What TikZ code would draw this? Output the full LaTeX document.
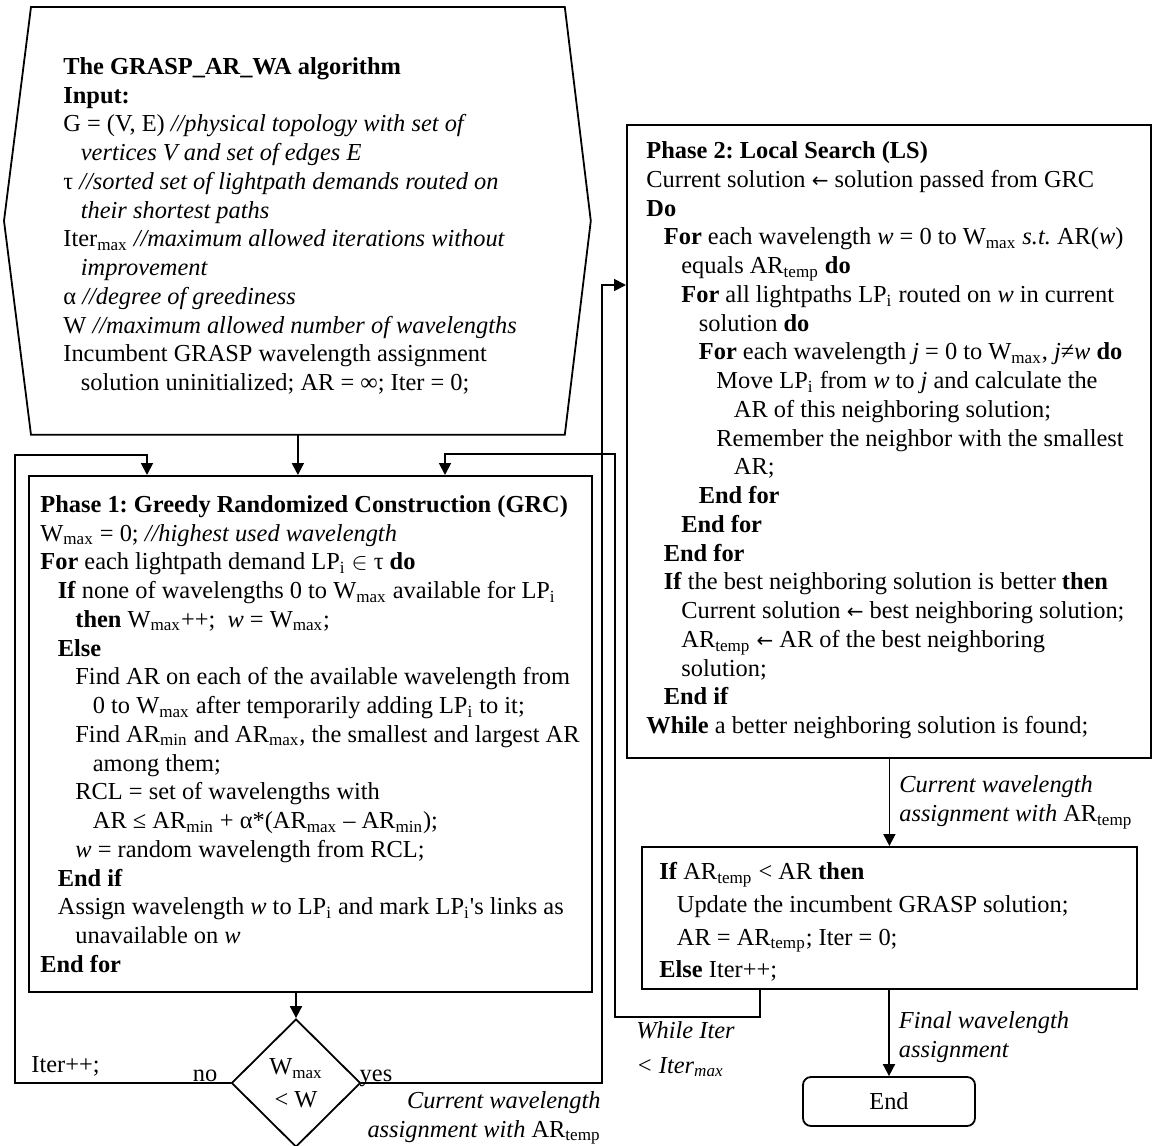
\documentclass[tikz,border=0pt]{standalone}
\usepackage{fontspec}
\setmainfont{Liberation Serif}
\newfontfamily\djv{DejaVu Sans}
\usepackage{tikz}
\usetikzlibrary{arrows.meta,positioning,calc,shapes.geometric}
\frenchspacing
\newlength\lvw
\setlength\lvw{8.75pt}
\newcommand\lv[1]{\hspace*{#1\lvw}}
\newcommand\sbs[1]{\textsubscript{#1}}
\newcommand\lar{{\djv\fontsize{10}{12}\selectfont ←}}

\begin{document}
\begin{tikzpicture}[
  x=0.5pt, y=0.5pt,
  font=\fontsize{12.2}{14.375}\selectfont,
  box/.style={draw, line width=0.9pt, anchor=north west, inner sep=0pt},
  txt/.style={align=left, inner sep=0pt, anchor=west},
  lbl/.style={font=\fontsize{12.2}{14.375}\selectfont\itshape, align=left, inner sep=0pt},
  arr/.style={-{Triangle[length=6pt, width=6pt]}, line width=0.9pt}
]
\useasboundingbox (0,0) rectangle (1157,-1146);

\node[box, draw=none, minimum width=266pt, minimum height=213pt] (hexa) at (31,-7) {};
\draw[line width=0.9pt] (hexa.north west) -- (hexa.north east) -- ($(hexa.east)+(26,0)$) -- (hexa.south east) -- (hexa.south west) -- ($(hexa.west)+(-27,0)$) -- cycle;
\node[txt] (hexatxt) at ($(hexa.west)+(32,-5)$) {\textbf{The GRASP\_AR\_WA algorithm}\\
\textbf{Input:}\\
G = (V, E) \textit{//physical topology with set of}\\
\lv{1}\textit{vertices V and set of edges E}\\
τ \textit{//sorted set of lightpath demands routed on}\\
\lv{1}\textit{their shortest paths}\\
Iter\sbs{max} \textit{//maximum allowed iterations without}\\
\lv{1}\textit{improvement}\\
α \textit{//degree of greediness}\\
W \textit{//maximum allowed number of wavelengths}\\
Incumbent GRASP wavelength assignment\\
\lv{1}solution uninitialized; AR = ∞; Iter = 0;};

\node[box, minimum width=281.5pt, minimum height=258pt] (grc) at (28,-475) {};
\node[txt] (grctxt) at ($(grc.west)+(12,0)$) {\textbf{Phase 1: Greedy Randomized Construction (GRC)}\\
W\sbs{max} = 0; \textit{//highest used wavelength}\\
\textbf{For} each lightpath demand LP\sbs{i} $\in$ τ \textbf{do}\\
\lv{1}\textbf{If} none of wavelengths 0 to W\sbs{max} available for LP\sbs{i}\\
\lv{2}\textbf{then} W\sbs{max}++;\ \ \textit{w} = W\sbs{max};\\
\lv{1}\textbf{Else}\\
\lv{2}Find AR on each of the available wavelength from\\
\lv{3}0 to W\sbs{max} after temporarily adding LP\sbs{i} to it;\\
\lv{2}Find AR\sbs{min} and AR\sbs{max}, the smallest and largest AR\\
\lv{3}among them;\\
\lv{2}RCL = set of wavelengths with\\
\lv{3}AR ≤ AR\sbs{min} + α*(AR\sbs{max} – AR\sbs{min});\\
\lv{2}\textit{w} = random wavelength from RCL;\\
\lv{1}\textbf{End if}\\
\lv{1}Assign wavelength \textit{w} to LP\sbs{i} and mark LP\sbs{i}\textquotesingle s links as\\
\lv{2}unavailable on \textit{w}\\
\textbf{End for}};

\node[box, minimum width=262pt, minimum height=316.5pt] (ls) at (626,-124) {};
\node[txt] (lstxt) at ($(ls.west)+(20,1)$) {\textbf{Phase 2: Local Search (LS)}\\
Current solution \lar{} solution passed from GRC\\
\textbf{Do}\\
\lv{1}\textbf{For} each wavelength \textit{w} = 0 to W\sbs{max} \textit{s.t.} AR(\textit{w})\\
\lv{2}equals AR\sbs{temp} \textbf{do}\\
\lv{2}\textbf{For} all lightpaths LP\sbs{i} routed on \textit{w} in current\\
\lv{3}solution \textbf{do}\\
\lv{3}\textbf{For} each wavelength \textit{j} = 0 to W\sbs{max}, \textit{j}≠\textit{w} \textbf{do}\\
\lv{4}Move LP\sbs{i} from \textit{w} to \textit{j} and calculate the\\
\lv{5}AR of this neighboring solution;\\
\lv{4}Remember the neighbor with the smallest\\
\lv{5}AR;\\
\lv{3}\textbf{End for}\\
\lv{2}\textbf{End for}\\
\lv{1}\textbf{End for}\\
\lv{1}\textbf{If} the best neighboring solution is better \textbf{then}\\
\lv{2}Current solution \lar{} best neighboring solution;\\
\lv{2}AR\sbs{temp} \lar{} AR of the best neighboring\\
\lv{2}solution;\\
\lv{1}\textbf{End if}\\
\textbf{While} a better neighboring solution is found;};

\node[box, minimum width=247.5pt, minimum height=71pt] (upd) at (641,-846) {};
\node[txt] (updtxt) at ($(upd.west)+(18,-4)$) {\textbf{If} AR\sbs{temp} < AR \textbf{then}\\[2pt]
\lv{1}Update the incumbent GRASP solution;\\[2pt]
\lv{1}AR = AR\sbs{temp}; Iter = 0;\\[2pt]
\textbf{Else} Iter++;};

\node[draw, line width=0.9pt, rounded corners=4pt, minimum width=86pt, minimum height=24.5pt] (fin) at (889,-1101.5) {End};
\node[diamond, draw, line width=0.9pt, minimum width=64.5pt, minimum height=64pt, inner sep=0pt, align=center] (dec) at (296,-1083) {W\sbs{max}\\[2pt]< W};

\coordinate (ntop) at (15,-455);
\coordinate (wtop) at (615,-454);

\draw[arr] (hexa.south) -- (hexa.south |- grc.north);
\draw[arr] (grc.south -| dec.north) -- (dec.north);
\draw[arr] (dec.west) -| (ntop) -| ($(grc.north west)+(119,0)$);
\draw[arr] (dec.east) -| ($(ls.north west)+(-24,-161)$) -- ($(ls.north west)+(0,-161)$);
\draw[arr] (ls.south -| upd.north) -- node[lbl, right=4.5pt] (cwa) {Current wavelength\\assignment with \textup{AR\sbs{temp}}} (upd.north);
\draw[arr] (upd.south -| fin.north) -- node[lbl, right=4.5pt, pos=0.55] (fwa) {Final wavelength\\assignment} (fin.north);
\draw[arr] ($(upd.south west)+(119,0)$) -- ++(0,-27) -| (wtop) -| ($(grc.north west)+(417,0)$);

\node[inner sep=0pt, anchor=base west] (itr) at (31,-1072) {Iter++;};
\node[inner sep=0pt, anchor=base] (no) at (205,-1081) {no};
\node[inner sep=0pt, anchor=base] (yes) at (376,-1081) {yes};
\node[lbl, align=right, anchor=north east] (cwb) at (601,-1091) {Current wavelength\\assignment with \textup{AR\sbs{temp}}};
\node[lbl, anchor=north west] (wlbl) at (636,-1021) {While Iter\\[3pt]< Iter\sbs{max}};
\end{tikzpicture}
\end{document}
